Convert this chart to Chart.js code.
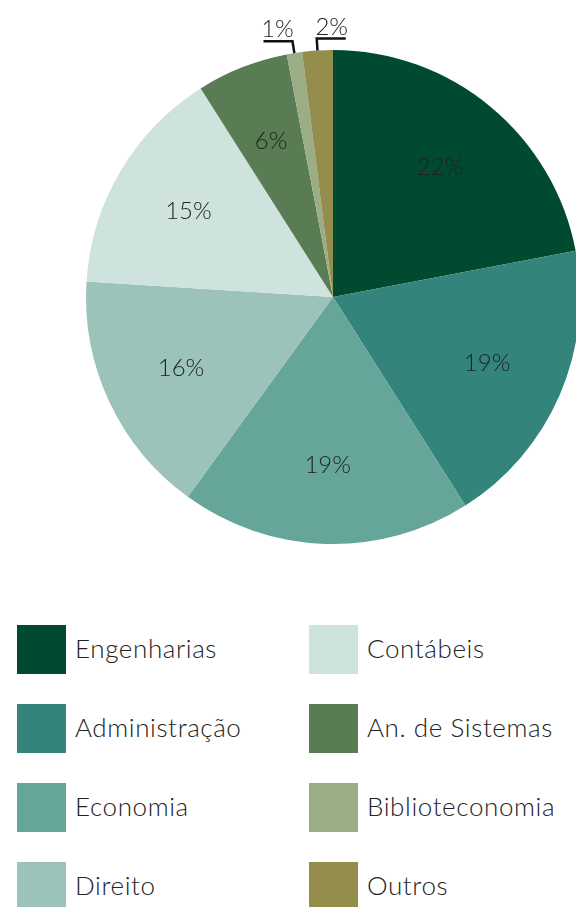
<!DOCTYPE html>
<html>
<head>
<meta charset="utf-8">
<script src="https://cdn.jsdelivr.net/npm/chart.js@4"></script>
<style>
  html, body { margin: 0; padding: 0; background: #fff; overflow: hidden; }
  body { width: 576px; height: 907px; position: relative; font-family: 'Lato', sans-serif; }
  #wrap { position: absolute; left: 0; top: 0; width: 580px; height: 560px; }
  #legend { position: absolute; left: 0; top: 625px; width: 576px; }
  .item { position: absolute; height: 49px; display: flex; align-items: center; }
  .sw { width: 49px; height: 49px; margin-right: 9px; }
  .item span { font-size: 26px; font-weight: 300; color: #222; letter-spacing: 0.6px; margin-top: -4px; }
</style>
</head>
<body>
<div id="wrap"><canvas id="pie1"></canvas></div>
<div id="legend"></div>
<script>
const categories = ['Engenharias', 'Administração', 'Economia', 'Direito',
                    'Contábeis', 'An. de Sistemas', 'Biblioteconomia', 'Outros'];
const shares = [22, 19, 19, 16, 15, 6, 1, 2];
const colors = ['#004b2f', '#33847a', '#66a69a', '#9cc3ba',
                '#cfe3de', '#5a7c55', '#9aad85', '#948d4c'];

// small slices get a callout line instead of an inside label
const calloutSide = { 'Biblioteconomia': -1, 'Outros': 1 };

const labelPlugin = {
    id: 'sliceLabels',
    afterDatasetsDraw(chart) {
        const ctx = chart.ctx;
        const meta = chart.getDatasetMeta(0);
        ctx.save();
        ctx.font = '300 24px Lato';
        ctx.fillStyle = '#222';
        ctx.strokeStyle = '#111';
        ctx.lineWidth = 2.5;
        ctx.textAlign = 'center';
        meta.data.forEach((arc, i) => {
            const p = arc.getProps(['x', 'y', 'startAngle', 'endAngle', 'outerRadius'], true);
            const mid = (p.startAngle + p.endAngle) / 2;
            const txt = shares[i] + '%';
            const side = calloutSide[categories[i]];
            if (side) {
                const ex = p.x + Math.cos(mid) * p.outerRadius;
                const ey = p.y + Math.sin(mid) * p.outerRadius;
                const kx = p.x + Math.cos(mid) * (p.outerRadius + 12);
                const ky = p.y + Math.sin(mid) * (p.outerRadius + 12);
                ctx.beginPath();
                ctx.moveTo(ex, ey);
                ctx.lineTo(kx, ky);
                ctx.lineTo(kx + side * 29, ky);
                ctx.stroke();
                ctx.textBaseline = 'alphabetic';
                ctx.fillText(txt, kx + side * 15, ky - 4);
            } else {
                const r = p.outerRadius * 0.68;
                ctx.textBaseline = 'middle';
                ctx.fillText(txt, p.x + Math.cos(mid) * r, p.y + Math.sin(mid) * r);
            }
        });
        ctx.restore();
    }
};

new Chart(document.getElementById('pie1'), {
    type: 'pie',
    data: {
        labels: categories,
        datasets: [{
            data: shares,
            backgroundColor: colors,
            borderWidth: 0
        }]
    },
    options: {
        responsive: true,
        maintainAspectRatio: false,
        animation: false,
        layout: {
            padding: { left: 86, right: 0, top: 50, bottom: 16 }
        },
        plugins: {
            legend: { display: false },
            tooltip: { enabled: false }
        }
    },
    plugins: [labelPlugin]
});

// legend in two columns, filled top to bottom
const legend = document.getElementById('legend');
categories.forEach((name, i) => {
    const col = Math.floor(i / 4);
    const row = i % 4;
    const item = document.createElement('div');
    item.className = 'item';
    item.style.left = (col === 0 ? 17 : 309) + 'px';
    item.style.top = (row * 79) + 'px';
    item.innerHTML = '<div class="sw" style="background:' + colors[i] + '"></div><span>' + name + '</span>';
    legend.appendChild(item);
});
</script>
</body>
</html>
